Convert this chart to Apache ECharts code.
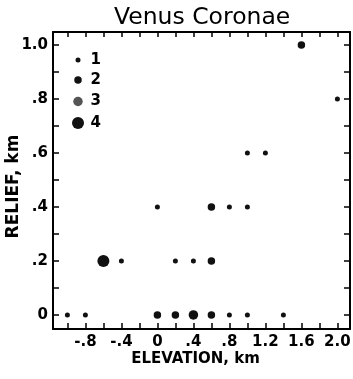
<!DOCTYPE html>
<html>
<head>
<meta charset="utf-8">
<script src="https://cdn.jsdelivr.net/npm/echarts@6/dist/echarts.min.js"></script>
<style>
html,body{margin:0;padding:0;background:#fff;}
#chart{width:353px;height:379px;}
</style>
</head>
<body>
<div id="chart"></div>
<script>
// ---- Data ----
const titleText = 'Venus Coronae';
const xAxisName = 'ELEVATION, km';
const yAxisName = 'RELIEF, km';
const legendLabels = ['1', '2', '3', '4'];

const xTickValues = [-0.8, -0.4, 0, 0.4, 0.8, 1.2, 1.6, 2.0];
const xTickLabels = ['-.8', '-.4', '0', '.4', '.8', '1.2', '1.6', '2.0'];
const xMinorTicks = [-1.0, -0.8, -0.6, -0.4, -0.2, 0, 0.2, 0.4, 0.6, 0.8, 1.0, 1.2, 1.4, 1.6, 1.8, 2.0];
const yTickValues = [0, 0.2, 0.4, 0.6, 0.8, 1.0];
const yTickLabels = ['0', '.2', '.4', '.6', '.8', '1.0'];
const yMinorTicks = [0, 0.1, 0.2, 0.3, 0.4, 0.5, 0.6, 0.7, 0.8, 0.9, 1.0];

// size class 1
const class1Elevation = [-1.0, -0.8, 0.8, 1.0, 1.4, -0.4, 0.2, 0.4, 0.0, 0.8, 1.0, 1.0, 1.2, 2.0];
const class1Relief    = [ 0.0,  0.0, 0.0, 0.0, 0.0,  0.2, 0.2, 0.2, 0.4, 0.4, 0.4, 0.6, 0.6, 0.8];
// size class 2
const class2Elevation = [0.0, 0.2, 0.6, 0.6, 0.6, 1.6];
const class2Relief    = [0.0, 0.0, 0.0, 0.2, 0.4, 1.0];
// size class 3
const class3Elevation = [0.4];
const class3Relief    = [0.0];
// size class 4
const class4Elevation = [-0.6];
const class4Relief    = [0.2];

// ---- styling ----
const FONT = 'DejaVu Sans';
const markerSizes = [5, 7.5, 9.5, 12];
const markerColors = ['#111', '#111', '#111', '#111'];
const legendCentersY = [60, 80, 101.5, 123];
const legendCenterX = 78;

function pairs(xs, ys) { return xs.map((x, i) => [x, ys[i]]); }
function fmt(values, labels) {
  return function (v) {
    for (let i = 0; i < values.length; i++) if (Math.abs(values[i] - v) < 1e-9) return labels[i];
    return '';
  };
}

const classData = [
  pairs(class1Elevation, class1Relief),
  pairs(class2Elevation, class2Relief),
  pairs(class3Elevation, class3Relief),
  pairs(class4Elevation, class4Relief)
];

const X_MIN = -1.16, X_MAX = 2.14, Y_MIN = -0.052, Y_MAX = 1.048;
const lineStyle = { color: '#000', width: 2 };
const labelStyle = { color: '#000', fontFamily: FONT, fontWeight: 'bold', fontSize: 15 };

const chart = echarts.init(document.getElementById('chart'), null, { renderer: 'canvas' });

const option = {
  animation: false,
  backgroundColor: '#fff',
  title: {
    text: titleText,
    left: 114,
    top: 6,
    padding: 0,
    textStyle: { color: '#000', fontFamily: FONT, fontWeight: 'normal', fontSize: 23.5 }
  },
  grid: { left: 53, right: 3, top: 32, bottom: 50, outerBoundsMode: 'none', containLabel: false },
  legend: legendLabels.map((name, i) => ({
    data: [i === 2 ? { name: name, itemStyle: { color: '#555' } } : name],
    orient: 'vertical',
    left: legendCenterX - markerSizes[i] / 2,
    top: legendCentersY[i] - 7.5,
    padding: 0,
    itemWidth: markerSizes[i],
    itemHeight: markerSizes[i],
    icon: 'circle',
    selectedMode: false,
    textStyle: { color: '#000', fontFamily: FONT, fontWeight: 'bold', fontSize: 15,
                 padding: [0, 0, 0, 7.5 - markerSizes[i] / 2] }
  })),
  xAxis: [
    {
      type: 'value', position: 'bottom', min: X_MIN, max: X_MAX,
      name: xAxisName, nameLocation: 'middle', nameGap: 23, nameMoveOverlap: false,
      nameTextStyle: { color: '#000', fontFamily: FONT, fontWeight: 'bold', fontSize: 15, padding: [0, 12, 0, 0] },
      axisLine: { show: true, onZero: false, lineStyle: lineStyle },
      axisTick: { show: true, inside: true, length: 6, customValues: xMinorTicks, lineStyle: { color: '#000', width: 1.5 } },
      axisLabel: { show: true, margin: 6, customValues: xTickValues, formatter: fmt(xTickValues, xTickLabels), ...labelStyle },
      splitLine: { show: false }
    },
    {
      type: 'value', position: 'top', min: X_MIN, max: X_MAX,
      axisLine: { show: true, onZero: false, lineStyle: lineStyle },
      axisTick: { show: true, inside: true, length: 5, customValues: xMinorTicks, lineStyle: { color: '#000', width: 1.5 } },
      axisLabel: { show: false },
      splitLine: { show: false }
    }
  ],
  yAxis: [
    {
      type: 'value', position: 'left', min: Y_MIN, max: Y_MAX,
      name: yAxisName, nameLocation: 'middle', nameGap: 31, nameMoveOverlap: false,
      nameTextStyle: { color: '#000', fontFamily: FONT, fontWeight: 'bold', fontSize: 17, padding: [0, 12, 0, 0] },
      axisLine: { show: true, onZero: false, lineStyle: lineStyle },
      axisTick: { show: true, inside: true, length: 6, customValues: yMinorTicks, lineStyle: { color: '#000', width: 1.5 } },
      axisLabel: { show: true, margin: 5, customValues: yTickValues, formatter: fmt(yTickValues, yTickLabels), ...labelStyle },
      splitLine: { show: false }
    },
    {
      type: 'value', position: 'right', min: Y_MIN, max: Y_MAX,
      axisLine: { show: true, onZero: false, lineStyle: lineStyle },
      axisTick: { show: true, inside: true, length: 6, customValues: yMinorTicks, lineStyle: { color: '#000', width: 1.5 } },
      axisLabel: { show: false },
      splitLine: { show: false }
    }
  ],
  series: legendLabels.map((name, i) => ({
    name: name,
    type: 'scatter',
    xAxisIndex: 0,
    yAxisIndex: 0,
    symbol: 'circle',
    symbolSize: markerSizes[i],
    itemStyle: { color: markerColors[i], opacity: 1 },
    emphasis: { disabled: true },
    clip: false,
    data: classData[i],
    z: 5
  }))
};

chart.setOption(option);
</script>
</body>
</html>
